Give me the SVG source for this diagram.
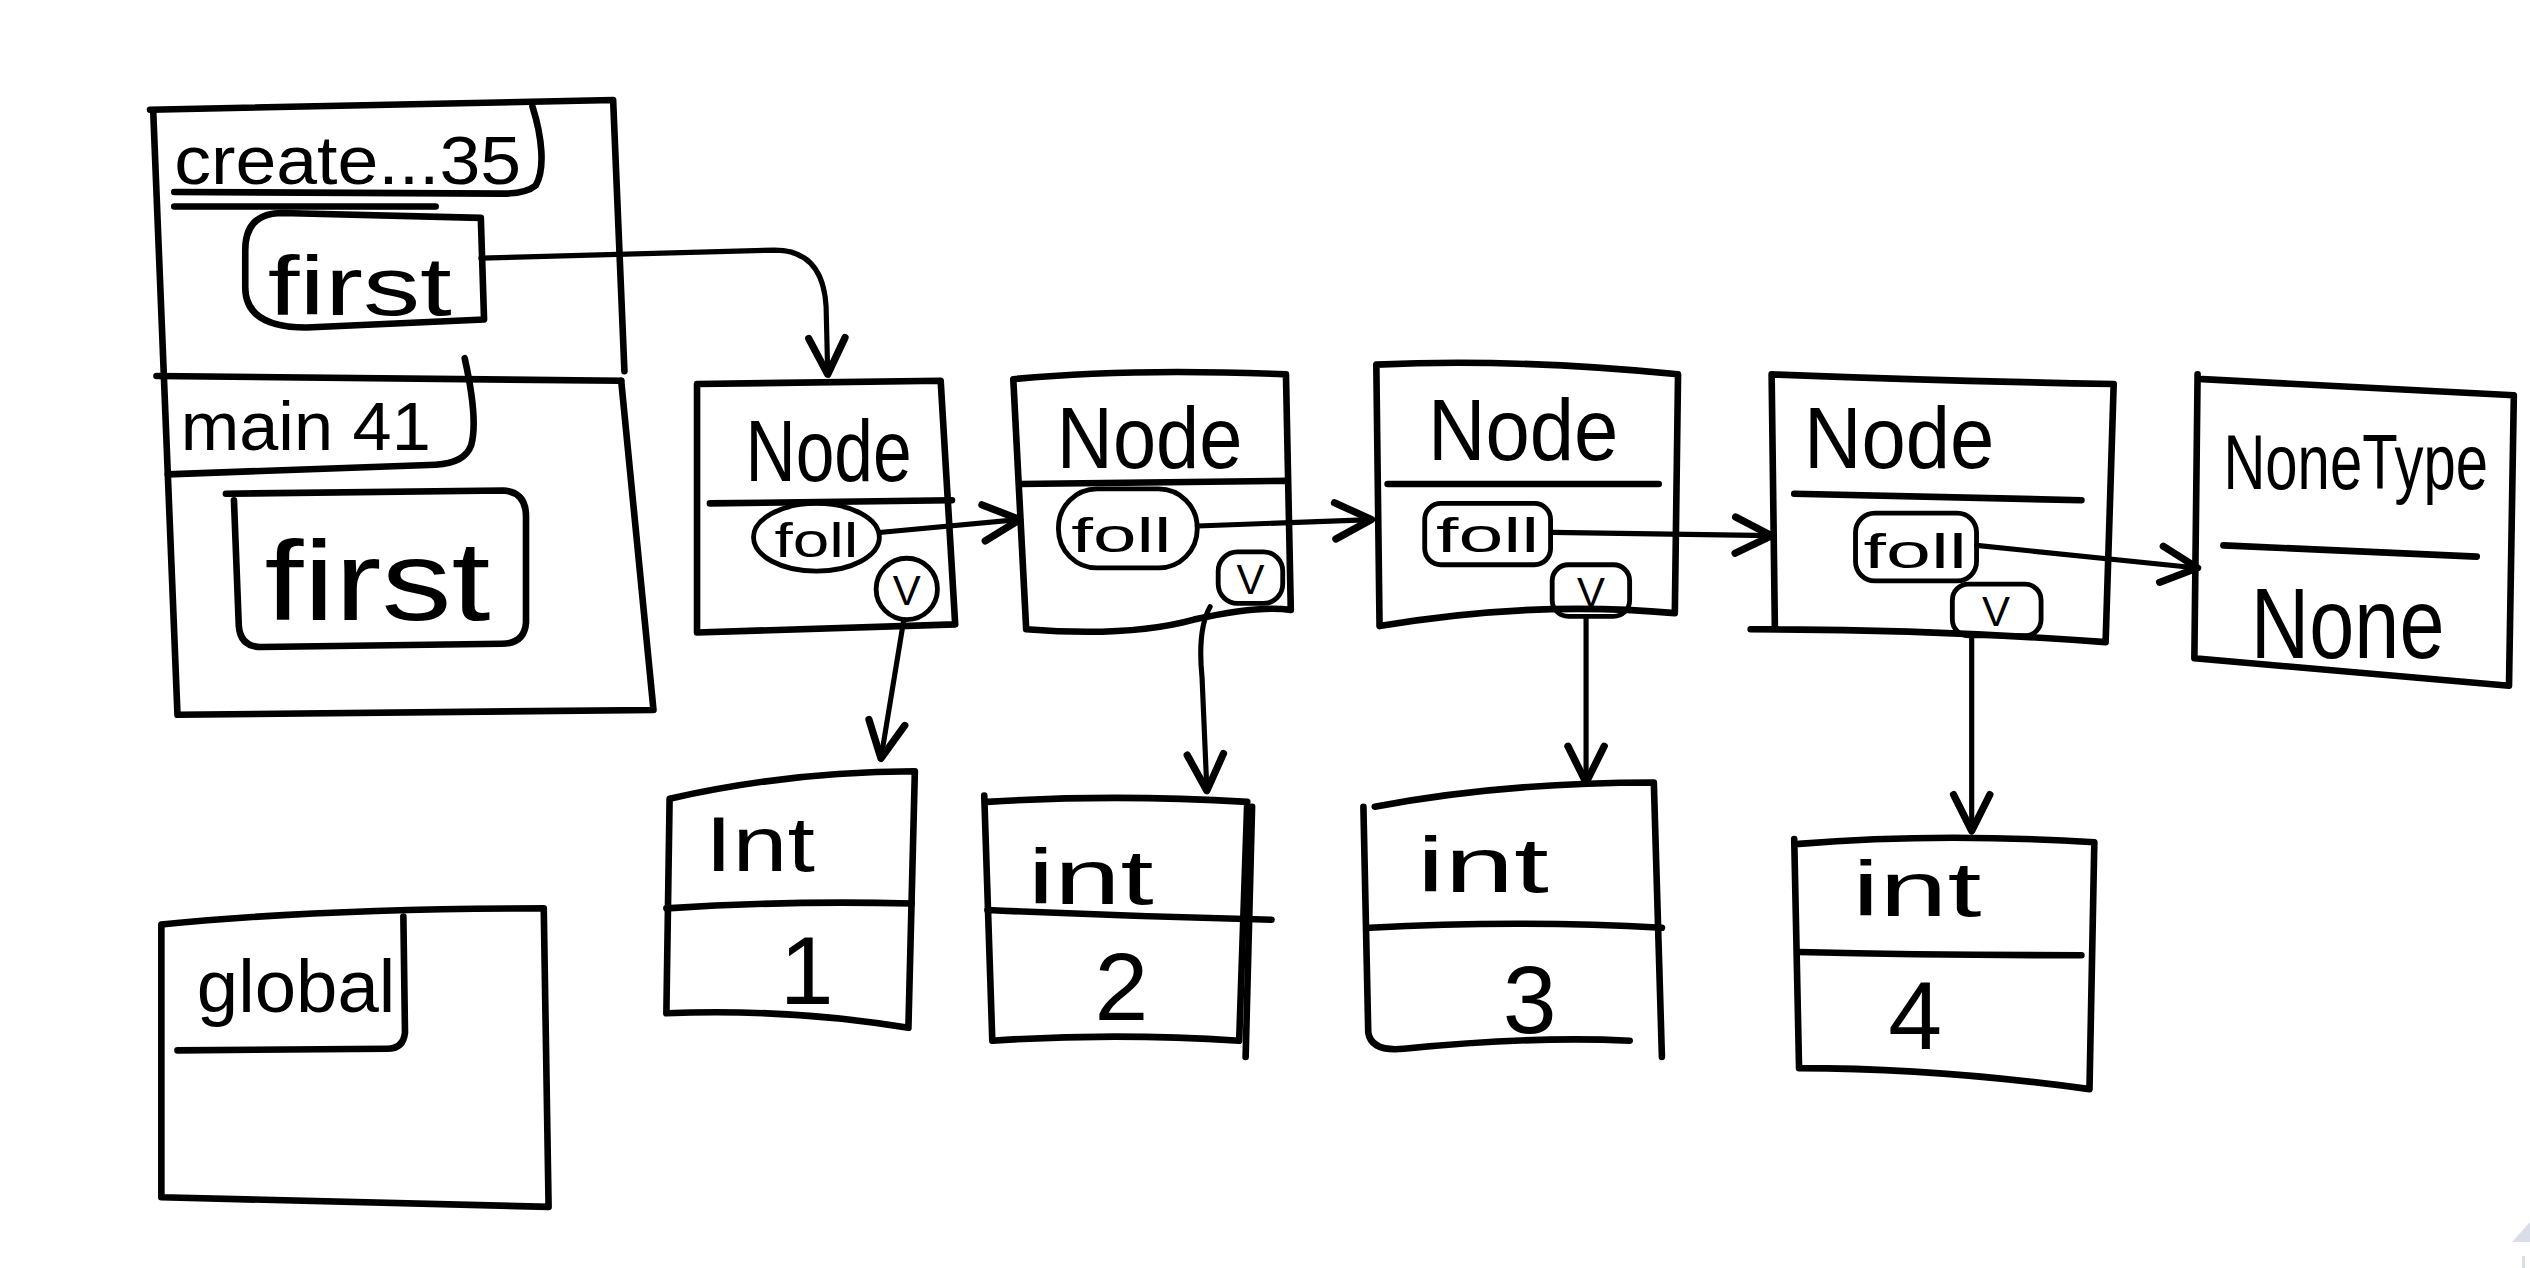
<svg xmlns="http://www.w3.org/2000/svg" width="2530" height="1268" viewBox="0 0 2530 1268">
<defs>
<style>
.s{fill:none;stroke:#000;stroke-width:4.1;stroke-linecap:round;stroke-linejoin:round}
.c{fill:none;stroke:#000;stroke-width:3;stroke-linecap:round;stroke-linejoin:round}
.a{fill:none;stroke:#000;stroke-width:3.2;stroke-linecap:round;stroke-linejoin:round}
text{font-family:"Liberation Sans","DejaVu Sans",sans-serif;fill:#000}
.t{font-size:54px}
.f{font-size:30px}
.v{font-size:26px;text-anchor:middle}
.i{font-size:48px}
.d{font-size:60px;text-anchor:middle}
</style>
<marker id="ah" viewBox="0 0 20 20" refX="18" refY="10" markerUnits="userSpaceOnUse" markerWidth="30" markerHeight="30" orient="auto">
<path d="M3,2.5 L18,10 L3,17.5" fill="none" stroke="#000" stroke-width="3" stroke-linecap="round" stroke-linejoin="round"/>
</marker>
</defs>
<rect width="2530" height="1268" fill="#fff"/>
<g transform="scale(1.6135)">
<g id="stack">
<path class="s" d="M93,68 L380,62 L387,230"/>
<path class="s" d="M95,70 L110,443 L405,440 L385,236"/>
<path class="s" d="M97,233 L385,236"/>
</g>
<g id="frame-create">
<path class="s" d="M330,66 C336,85 338,105 332,115 Q326,120 312,120 L108,119"/>
<text x="108" y="114" font-size="42" textLength="215" lengthAdjust="spacingAndGlyphs">create...35</text>
<path class="s" d="M108,128 L270,128"/>
<path class="s" d="M175,132 L298,135 L300,198 L190,203 Q152,203 152,178 L152,155 Q152,132 175,132 Z"/>
<text x="166" y="195" font-size="52" textLength="114" lengthAdjust="spacingAndGlyphs">first</text>
</g>
<g id="frame-main">
<path class="s" d="M288,222 C292,240 296,262 292,276 Q288,287 270,288 L104,294"/>
<text x="112" y="279" font-size="42" textLength="155" lengthAdjust="spacingAndGlyphs">main 41</text>
<path class="s" d="M140,306 L312,304 Q326,305 326,320 L326,386 Q325,399 311,399 L162,401 Q149,401 148,388 L145,310"/>
<text x="164" y="384" font-size="70" textLength="140" lengthAdjust="spacingAndGlyphs">first</text>
</g>
<g id="frame-global">
<path class="s" d="M100,573 Q200,563 337,563 L340,748 L100,742 Z"/>
<path class="s" d="M250,568 L251,640 Q250,650 240,650 L110,651"/>
<text x="122" y="627" font-size="46" textLength="123" lengthAdjust="spacingAndGlyphs">global</text>
</g>
<g id="node1">
<path class="s" d="M432,238 L583,236 L592,387 L432,392 Z"/>
<path class="s" d="M440,312 L590,310"/>
<text class="t" x="462" y="298" textLength="103" lengthAdjust="spacingAndGlyphs">Node</text>
<ellipse class="c" cx="506" cy="333" rx="39" ry="21"/>
<text class="f" x="480" y="345" textLength="52" lengthAdjust="spacingAndGlyphs">foll</text>
<circle class="c" cx="562" cy="365" r="19"/>
<text class="v" x="562" y="375">V</text>
</g>
<g id="node2">
<path class="s" d="M628,235 Q700,228 797,232 L800,378 Q780,375 740,384 Q700,395 636,390 Z"/>
<path class="s" d="M632,300 L797,298"/>
<text class="t" x="655" y="290" textLength="115" lengthAdjust="spacingAndGlyphs">Node</text>
<rect class="c" x="656" y="303" width="86" height="49" rx="24"/>
<text class="f" x="664" y="342" textLength="62" lengthAdjust="spacingAndGlyphs">foll</text>
<rect class="c" x="755" y="342" width="40" height="32" rx="12"/>
<text class="v" x="775" y="368">V</text>
</g>
<g id="node3">
<path class="s" d="M853,226 Q940,222 1040,232 L1038,380 Q950,372 855,388 Z"/>
<path class="s" d="M860,300 L1028,300"/>
<text class="t" x="885" y="285" textLength="118" lengthAdjust="spacingAndGlyphs">Node</text>
<rect class="c" x="883" y="312" width="78" height="38" rx="10"/>
<text class="f" x="890" y="342" textLength="64" lengthAdjust="spacingAndGlyphs">foll</text>
<rect class="c" x="962" y="350" width="48" height="32" rx="10"/>
<text class="v" x="986" y="376">V</text>
</g>
<g id="node4">
<path class="s" d="M1098,232 Q1200,236 1310,238 L1305,398 Q1200,390 1085,390 M1098,232 L1100,388"/>
<path class="s" d="M1112,306 L1290,310"/>
<text class="t" x="1118" y="290" textLength="118" lengthAdjust="spacingAndGlyphs">Node</text>
<rect class="c" x="1150" y="318" width="75" height="42" rx="12"/>
<text class="f" x="1155" y="352" textLength="64" lengthAdjust="spacingAndGlyphs">foll</text>
<rect class="c" x="1210" y="362" width="55" height="32" rx="10"/>
<text class="v" x="1237" y="388">V</text>
</g>
<g id="nonetype">
<path class="s" d="M1362,232 L1360,408 L1555,425 L1558,245 L1365,235"/>
<path class="s" d="M1378,338 L1535,345"/>
<text transform="translate(1378,303) scale(1,1.35)" x="0" y="0" font-size="36" textLength="164" lengthAdjust="spacingAndGlyphs">NoneType</text>
<text x="1395" y="408" font-size="62" textLength="120" lengthAdjust="spacingAndGlyphs">None</text>
</g>
<g id="int1">
<path class="s" d="M415,495 Q490,478 567,478 L563,637 Q490,625 413,628 Z"/>
<path class="s" d="M413,563 Q490,558 565,560"/>
<text class="i" x="437" y="540" textLength="68" lengthAdjust="spacingAndGlyphs">Int</text>
<text class="d" x="500" y="622">1</text>
</g>
<g id="int2">
<path class="s" d="M610,493 L615,645 Q690,640 768,645 L773,497 Q690,492 612,497"/>
<path class="s" d="M612,564 Q700,568 788,570"/>
<text class="i" x="637" y="560" textLength="78" lengthAdjust="spacingAndGlyphs">int</text>
<text class="d" x="695" y="632">2</text>
<path class="s" d="M776,500 L772,655"/>
</g>
<g id="int3">
<path class="s" d="M852,500 Q930,485 1025,485 L1030,655 M845,500 L848,640 Q850,652 870,650 Q950,642 1010,645"/>
<path class="s" d="M849,575 Q940,570 1030,575"/>
<text class="i" x="878" y="553" textLength="82" lengthAdjust="spacingAndGlyphs">int</text>
<text class="d" x="948" y="640">3</text>
</g>
<g id="int4">
<path class="s" d="M1112,520 L1115,662 Q1200,662 1295,675 L1298,522 Q1200,516 1115,523"/>
<path class="s" d="M1115,590 Q1200,592 1290,592"/>
<text class="i" x="1148" y="568" textLength="80" lengthAdjust="spacingAndGlyphs">int</text>
<text class="d" x="1187" y="650">4</text>
</g>
<g id="connectors">
<path class="a" marker-end="url(#ah)" d="M298,160 L480,155 Q510,155 512,190 L513,232"/>
<path class="a" marker-end="url(#ah)" d="M545,330 L632,322"/>
<path class="a" marker-end="url(#ah)" d="M742,326 L850,322"/>
<path class="a" marker-end="url(#ah)" d="M962,330 L1098,332"/>
<path class="a" marker-end="url(#ah)" d="M1225,338 L1362,352"/>
<path class="a" marker-end="url(#ah)" d="M560,385 L546,470"/>
<path class="a" marker-end="url(#ah)" d="M750,376 Q742,390 745,420 L748,490"/>
<path class="a" marker-end="url(#ah)" d="M983,383 L983,485"/>
<path class="a" marker-end="url(#ah)" d="M1222,396 L1222,515"/>
</g>
</g>
<polygon points="2512,1242 2530,1222 2530,1242" fill="#d8dde8"/>
<rect x="2522" y="1256" width="3" height="12" fill="#d8dde8"/>
</svg>
